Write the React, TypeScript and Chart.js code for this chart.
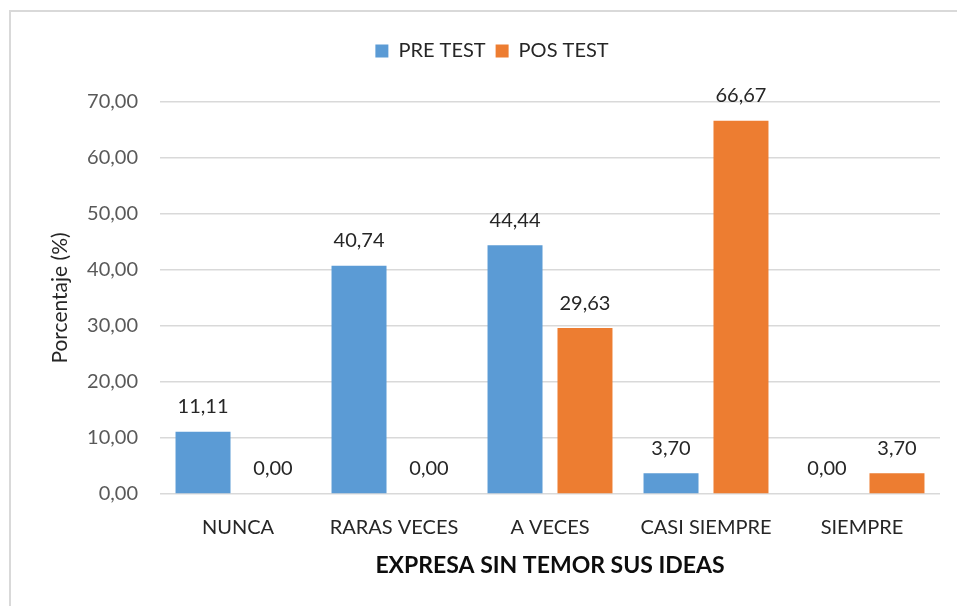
import React, { useEffect, useRef } from "react";
import { Chart, registerables } from "chart.js";

Chart.register(...registerables);

const categories = ["NUNCA", "RARAS VECES", "A VECES", "CASI SIEMPRE", "SIEMPRE"];
const preTest = [11.11, 40.74, 44.44, 3.7, 0.0];
const posTest = [0.0, 0.0, 29.63, 66.67, 3.7];
const seriesNames = ["PRE TEST", "POS TEST"];
const xTitle = "EXPRESA SIN TEMOR SUS IDEAS";
const yTitle = "Porcentaje (%)";

const FONT = "Lato, 'Noto Sans', sans-serif";
const fmt = (v: number) => v.toFixed(2).replace(".", ",");

const dataLabels = {
  id: "dataLabels",
  afterDatasetsDraw(chart: any) {
    const ctx = chart.ctx;
    ctx.save();
    ctx.font = `20px ${FONT}`;
    ctx.fillStyle = "#262626";
    ctx.textAlign = "center";
    ctx.textBaseline = "middle";
    chart.data.datasets.forEach((ds: any, i: number) => {
      const meta = chart.getDatasetMeta(i);
      meta.data.forEach((bar: any, j: number) => {
        ctx.fillText(fmt(ds.data[j]), bar.x, bar.y - 25);
      });
    });
    ctx.restore();
  },
};

const legendGap = {
  id: "legendGap",
  beforeInit(chart: any) {
    const lg = chart.legend;
    if (!lg) return;
    const orig = lg.fit;
    lg.fit = function () {
      orig.call(this);
      this.height += 31;
    };
  },
};

export default function App() {
  const ref = useRef<HTMLCanvasElement>(null);
  useEffect(() => {
    if (!ref.current) return;
    const chart = new Chart(ref.current, {
      type: "bar",
      data: {
        labels: categories,
        datasets: [
          {
            label: seriesNames[0],
            data: preTest,
            backgroundColor: "#5B9BD5",
            categoryPercentage: 0.897,
            barPercentage: 0.786,
          },
          {
            label: seriesNames[1],
            data: posTest,
            backgroundColor: "#ED7D31",
            categoryPercentage: 0.897,
            barPercentage: 0.786,
          },
        ],
      },
      options: {
        animation: false,
        responsive: false,
        layout: { padding: { left: 44, right: 17, top: 31, bottom: 23 } },
        plugins: {
          legend: {
            position: "top",
            labels: {
              boxWidth: 13,
              boxHeight: 13,
              padding: 10,
              color: "#262626",
              font: { family: FONT, size: 20 },
            },
          },
          tooltip: { enabled: false },
        },
        scales: {
          x: {
            grid: { display: false },
            border: { display: false },
            ticks: { color: "#262626", font: { family: FONT, size: 20 }, padding: 14 },
            title: {
              display: true,
              text: xTitle,
              color: "#0d0d0d",
              font: { family: FONT, size: 23, weight: "bold" },
            },
            afterFit(scale: any) {
              scale.height = 89;
            },
          },
          y: {
            min: 0,
            max: 70,
            ticks: {
              stepSize: 10,
              color: "#595959",
              font: { family: FONT, size: 20 },
              padding: 22,
              callback: (v: any) => fmt(Number(v)),
            },
            grid: { color: "#d9d9d9", lineWidth: 1.5, drawTicks: false },
            border: { display: false },
            title: {
              display: true,
              text: yTitle,
              color: "#262626",
              font: { family: FONT, size: 21 },
            },
            afterFit(scale: any) {
              scale.width = 116;
            },
          },
        },
      },
      plugins: [legendGap, dataLabels],
    });
    return () => chart.destroy();
  }, []);

  return (
    <div
      style={{
        position: "fixed",
        left: 0,
        top: 0,
        width: 957,
        height: 606,
        overflow: "hidden",
        background: "#fff",
      }}
    >
      <div
        style={{
          position: "absolute",
          left: 9,
          top: 10,
          width: 1000,
          height: 700,
          border: "2px solid #d9d9d9",
        }}
      />
      <canvas
        ref={ref}
        width={957}
        height={606}
        style={{ position: "absolute", left: 0, top: 0 }}
      />
    </div>
  );
}
